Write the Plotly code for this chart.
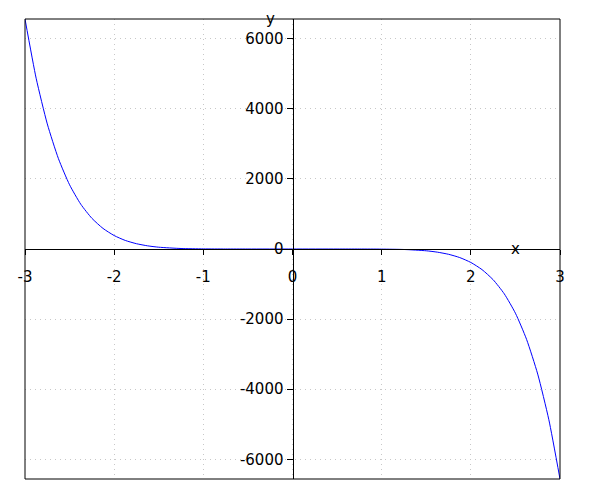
import plotly.graph_objects as go

# Values (x, y)
x_vals = [-3.0, -2.875, -2.75, -2.625, -2.5, -2.375, -2.25, -2.125, -2.0, -1.875, -1.75,
          -1.625, -1.5, -1.25, -1.0, -0.75, -0.5, 0.0, 0.5, 0.75, 1.0, 1.25, 1.5, 1.625,
          1.75, 1.875, 2.0, 2.125, 2.25, 2.375, 2.5, 2.625, 2.75, 2.875, 3.0]
y_vals = [6561, 4871, 3568, 2577, 1831, 1279, 876, 587, 384, 244, 151,
          90, 51, 14, 3, 0.4, 0.02, 0, -0.02, -0.4, -3, -14, -51, -90,
          -151, -244, -384, -587, -876, -1279, -1831, -2577, -3568, -4871, -6561]

x_ticks = [-3, -2, -1, 0, 1, 2, 3]
y_ticks = [-6000, -4000, -2000, 0, 2000, 4000, 6000]
x_range = [-3, 3]
y_range = [-6561, 6561]

fig = go.Figure()
fig.add_trace(go.Scatter(x=x_vals, y=y_vals, mode="lines",
                         line=dict(color="#0000ff", width=1, shape="spline", smoothing=0.6),
                         hoverinfo="skip", showlegend=False))

font = dict(family="DejaVu Sans", size=15, color="black")

fig.update_layout(
    width=600, height=500,
    margin=dict(l=17, r=48, t=11, b=29, autoexpand=False),
    paper_bgcolor="white", plot_bgcolor="white",
    showlegend=False,
    font=font,
    xaxis=dict(range=x_range, tickvals=x_ticks, ticktext=[str(v) for v in x_ticks],
               anchor="free", position=0.5, showline=True, linecolor="black", linewidth=1,
               ticks="outside", ticklen=5, tickcolor="black", zeroline=False,
               showgrid=True, gridcolor="#c8c8c8", gridwidth=1, griddash="1px,4px",
               tickfont=font, automargin=False, ticklabelstandoff=9),
    yaxis=dict(range=y_range, tickvals=y_ticks, ticktext=[str(v) for v in y_ticks],
               anchor="free", position=0.5, showline=True, linecolor="black", linewidth=1,
               ticks="outside", ticklen=6, tickcolor="black", zeroline=False,
               showgrid=True, gridcolor="#c8c8c8", gridwidth=1, griddash="1px,4px",
               tickfont=font, automargin=False),
    shapes=[dict(type="rect", xref="paper", yref="paper", x0=0, y0=0, x1=1, y1=1,
                 line=dict(color="black", width=1), fillcolor="rgba(0,0,0,0)")],
    annotations=[
        dict(text="x", x=2.5, y=0, xref="x", yref="y", showarrow=False,
             font=font, xanchor="center", yanchor="middle"),
        dict(text="y", x=-0.25, y=1, xref="x", yref="paper", showarrow=False,
             font=font, xanchor="center", yanchor="middle"),
    ],
)

fig.write_html("out.html")
